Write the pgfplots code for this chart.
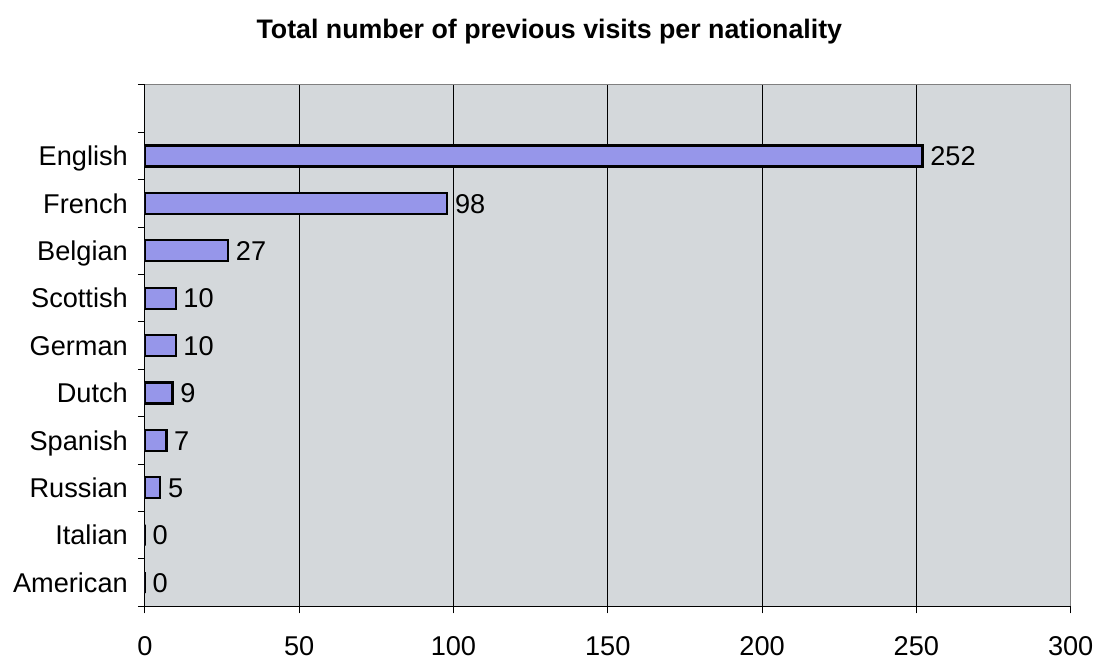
\documentclass[border=0pt]{standalone}
\usepackage{fontspec}
\setmainfont{Liberation Sans}
\usepackage{pgfplots}
\pgfplotsset{compat=1.18}
\definecolor{bgcol}{RGB}{212,216,219}
\definecolor{barcol}{RGB}{150,150,234}
\definecolor{framecol}{RGB}{128,128,128}
\begin{document}
\begin{tikzpicture}
\path (-72.5pt,-25.5pt) rectangle (477.5pt,303.5pt);
\begin{axis}[
  xbar,
  bar width=10.5pt,
  scale only axis,
  width=463.5pt, height=261pt,
  xmin=0, xmax=300,
  ymin=-0.5, ymax=10.5,
  xtick={0,50,...,300},
  ytick={0,...,9},
  yticklabels={American,Italian,Russian,Spanish,Dutch,German,Scottish,Belgian,French,English},
  minor ytick={-0.5,0.5,...,10.5},
  axis x line*=bottom,
  axis y line*=left,
  axis line style={black, line width=0.6pt, -},
  tick align=outside,
  major tick length=3.5pt,
  minor tick length=3.5pt,
  every major y tick/.style={draw=none},
  every minor y tick/.style={black, line width=0.5pt},
  every major x tick/.style={black, line width=0.5pt},
  xmajorgrids,
  major x grid style={black, line width=0.5pt},
  axis background/.style={fill=bgcol},
  /pgf/number format/assume math mode=true,
  ticklabel style={font=\fontsize{13.6}{15}\selectfont},
  xticklabel style={yshift=-8pt},
  yticklabel style={xshift=-1.5pt, text height=9.8pt, text depth=0pt},
  nodes near coords,
  every node near coord/.append style={font=\fontsize{13.6}{15}\selectfont, black, text height=9.8pt, text depth=0pt},
  after end axis/.code={
    \draw[framecol, line width=0.6pt] (rel axis cs:0,1) -- (rel axis cs:1,1) -- (rel axis cs:1,0);
  },
]
\addplot[fill=barcol, draw=black, line width=1.1pt] coordinates {
  (0,0) (0,1) (5,2) (7,3) (9,4) (10,5) (10,6) (27,7) (98,8) (252,9)
};
\end{axis}
\node[font=\bfseries\fontsize{13.4}{15}\selectfont] at (202.5pt,287.5pt) {Total number of previous visits per nationality};
\end{tikzpicture}
\end{document}
